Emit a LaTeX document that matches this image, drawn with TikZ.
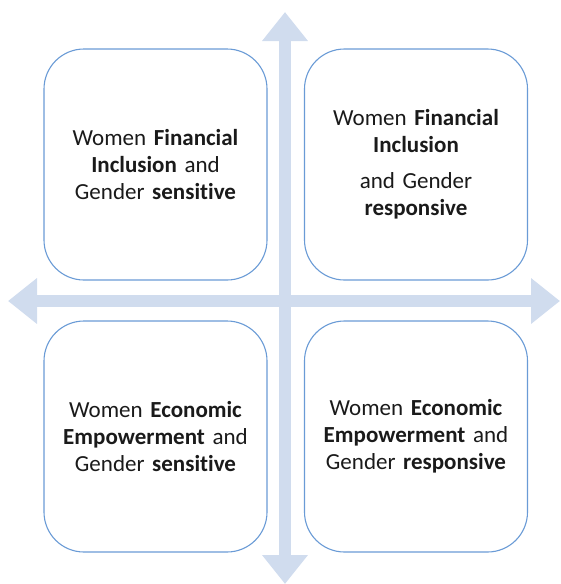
\documentclass[tikz,border=0pt]{standalone}
\usepackage{fontspec}
\setmainfont{Carlito}[RawFeature=-liga]
\usetikzlibrary{arrows.meta}
\definecolor{axisblue}{HTML}{D0DCEE}
\definecolor{boxblue}{HTML}{6A9BD6}
\definecolor{textgray}{HTML}{1A1A1A}

\begin{document}
\begin{tikzpicture}[x=1pt, y=-1pt,
  quad/.style={draw=boxblue, line width=1.1pt, rounded corners=40pt, fill=white,
               minimum width=223pt, minimum height=231pt, inner sep=0pt,
               text width=215pt, align=center, text=textgray,
               font=\fontsize{23}{27}\selectfont},
  axis/.style={axisblue, line width=11.5pt,
               {Triangle[width=44pt,length=29pt]}-{Triangle[width=44pt,length=29pt]}}]
  \useasboundingbox (0,0) rectangle (560,584);
  % axis end points
  \coordinate (top) at (285,12);
  \coordinate (bottom) at (285,584);
  \coordinate (left) at (8,301);
  \coordinate (right) at (560,301);
  \draw[axis] (top) -- (bottom);
  \draw[axis] (left) -- (right);
  % the four quadrants
  \node[quad] (fis) at (155.5,164.5) {Women \textbf{Financial}\\ \textbf{Inclusion} and\\ Gender \textbf{sensitive}};
  \node[quad] (fir) at (416,164.5) {Women \textbf{Financial}\\ \textbf{Inclusion}\\[9pt] and Gender\\ \textbf{responsive}};
  \node[quad] (ees) at (155.5,436.5) {Women \textbf{Economic}\\ \textbf{Empowerment} and\\ Gender \textbf{sensitive}};
  \node[quad] (eer) at (416,436.5) {Women \textbf{Economic}\\ \textbf{Empowerment} and\\ Gender \textbf{responsive}};
\end{tikzpicture}
\end{document}
